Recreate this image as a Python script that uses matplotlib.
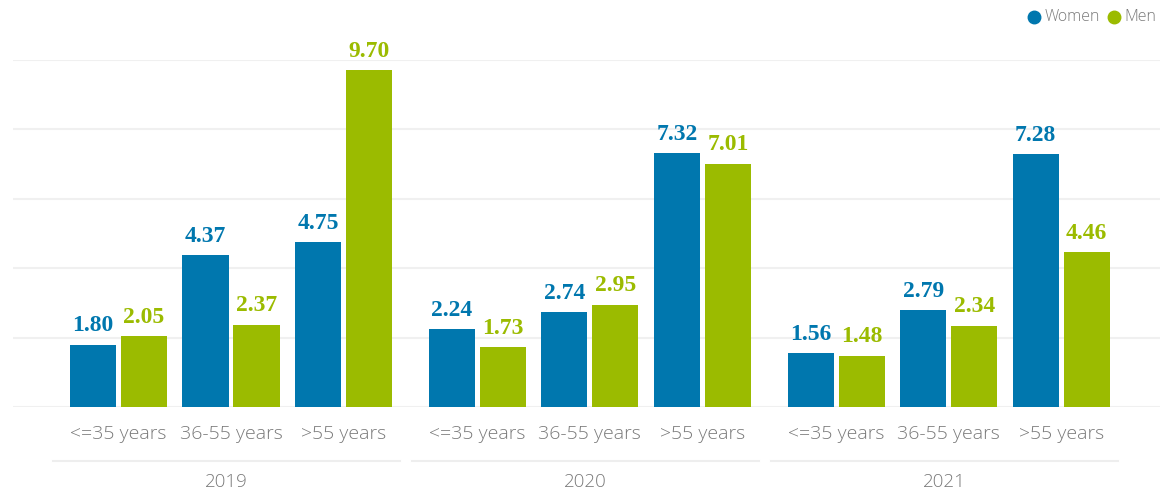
import matplotlib
matplotlib.use("Agg")
import matplotlib.pyplot as plt
import matplotlib.transforms as mtransforms
from matplotlib.lines import Line2D

# Data
years = ["2019", "2020", "2021"]
age_groups = ["<=35 years", "36-55 years", ">55 years"]
women = [1.80, 4.37, 4.75, 2.24, 2.74, 7.32, 1.56, 2.79, 7.28]
men = [2.05, 2.37, 9.70, 1.73, 2.95, 7.01, 1.48, 2.34, 4.46]

blue = "#0077ae"
green = "#9bbb00"
grey = "#7a7a7a"

# positions: three categories per year, a wider gap between years
group_step = 3.19
offset = 0.227
width = 0.41
centers = []
for g in range(len(years)):
    for c in range(len(age_groups)):
        centers.append(g * group_step + c)

fig = plt.figure(figsize=(11.68, 4.95), dpi=100)
ax = fig.add_axes([13 / 1168, 88 / 495, 1147 / 1168, 347 / 495])

for y in [0, 2, 4, 6, 8, 10]:
    ax.axhline(y, color="#f0f0f0", lw=1.5, zorder=0)

xw = [x - offset for x in centers]
xm = [x + offset for x in centers]
ax.bar(xw, women, width, color=blue, zorder=2)
ax.bar(xm, men, width, color=green, zorder=2)

for xs, vals, col in [(xw, women, blue), (xm, men, green)]:
    for x, v in zip(xs, vals):
        ax.annotate(f"{v:.2f}", (x, v), xytext=(0, 6), textcoords="offset points",
                    ha="center", va="bottom", color=col, fontsize=17,
                    fontweight="bold", family="Liberation Serif")

ax.set_xlim((13 - 118.5) / 112.5, (1160 - 118.5) / 112.5)
ax.set_ylim(0, 10)
ax.axis("off")

trans = mtransforms.blended_transform_factory(ax.transData, ax.transAxes)
for i, x in enumerate(centers):
    ax.text(x, -0.078, age_groups[i % 3], transform=trans, ha="center", va="center",
            color=grey, fontsize=14, family="Open Sans", fontweight="light")
for g, yr in enumerate(years):
    mid = g * group_step + 1 - 0.04
    ax.plot([mid - 1.54, mid + 1.54], [-0.156, -0.156], transform=trans,
            color="#eeeeee", lw=1.5, clip_on=False)
    ax.text(mid, -0.216, yr, transform=trans, ha="center", va="center",
            color=grey, fontsize=13.5, family="Open Sans", fontweight="light")

# legend
ly = 1 - 17 / 495
for cx, tx, col, lab in [(1034, 1045, blue, "Women"), (1114, 1124, green, "Men")]:
    fig.add_artist(Line2D([cx / 1168], [ly], marker="o", markersize=9, color=col,
                          transform=fig.transFigure, linestyle="none"))
    fig.text(tx / 1168, ly, lab, color=grey, fontsize=11.5, ha="left", va="center",
             family="Open Sans", fontweight="light")

fig.savefig("out.png", dpi=100)
